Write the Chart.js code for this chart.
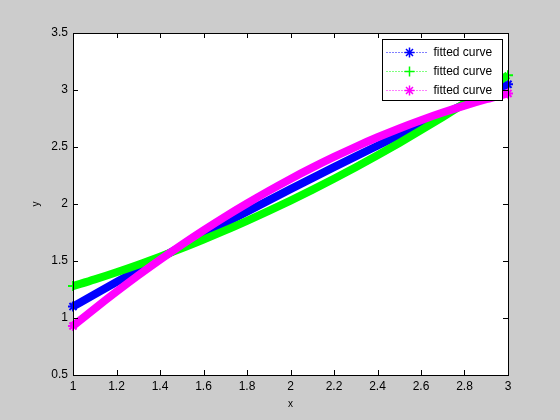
<!doctype html>
<html>
<head>
<meta charset="utf-8">
<title>fitted curve</title>
<script src="https://cdn.jsdelivr.net/npm/chart.js"></script>
<style>
  body { margin: 0; background: #cccccc; }
  #plot { display: block; background: #cccccc; }
</style>
</head>
<body>
<canvas id="plot" width="560" height="420"></canvas>
<script>
// valores
var xs = [1.0, 1.1, 1.2, 1.3, 1.4, 1.5, 1.6, 1.7, 1.8, 1.9, 2.0,
          2.1, 2.2, 2.3, 2.4, 2.5, 2.6, 2.7, 2.8, 2.9, 3.0];
var curvaAzul = [1.100, 1.208, 1.315, 1.421, 1.525, 1.629, 1.731, 1.833, 1.933, 2.032, 2.130,
                 2.227, 2.323, 2.418, 2.511, 2.604, 2.695, 2.786, 2.875, 2.963, 3.050];
var curvaVerde = [1.280, 1.339, 1.402, 1.468, 1.538, 1.611, 1.688, 1.768, 1.852, 1.939, 2.030,
                  2.124, 2.222, 2.323, 2.428, 2.536, 2.648, 2.763, 2.882, 3.004, 3.130];
var curvaMagenta = [0.930, 1.083, 1.231, 1.374, 1.511, 1.643, 1.769, 1.890, 2.005, 2.115, 2.220,
                    2.319, 2.413, 2.502, 2.585, 2.663, 2.735, 2.802, 2.863, 2.919, 2.970];
var xTicks = [1, 1.2, 1.4, 1.6, 1.8, 2, 2.2, 2.4, 2.6, 2.8, 3];
var yTicks = [0.5, 1, 1.5, 2, 2.5, 3, 3.5];
var legendas = ['fitted curve', 'fitted curve', 'fitted curve'];

var fonte = "'Liberation Sans', Arial, Helvetica, sans-serif";

function pontos(ys) {
  return xs.map(function(x, i){ return {x: x, y: ys[i]}; });
}
function raioPonta(ctx) {
  return (ctx.dataIndex === 0 || ctx.dataIndex === xs.length - 1) ? 5 : 0;
}

function marcador(ctx, estilo, x, y, r) {
  ctx.beginPath();
  ctx.moveTo(x - r, y); ctx.lineTo(x + r, y);
  ctx.moveTo(x, y - r); ctx.lineTo(x, y + r);
  if (estilo === 'star') {
    var d = r * 0.7;
    ctx.moveTo(x - d, y - d); ctx.lineTo(x + d, y + d);
    ctx.moveTo(x - d, y + d); ctx.lineTo(x + d, y - d);
  }
  ctx.stroke();
}

// moldura estilo matlab, com ticks para dentro
var molduraPlugin = {
  id: 'moldura',
  beforeDatasetsDraw: function(chart) {
    var a = chart.chartArea, ctx = chart.ctx;
    ctx.save();
    ctx.fillStyle = '#ffffff';
    ctx.fillRect(a.left, a.top, a.right - a.left, a.bottom - a.top);
    ctx.restore();
  },
  afterDraw: function(chart) {
    var a = chart.chartArea, ctx = chart.ctx;
    var sx = chart.scales.x, sy = chart.scales.y;
    ctx.save();
    ctx.strokeStyle = '#000';
    ctx.lineWidth = 1;
    ctx.strokeRect(Math.round(a.left) + 0.5, Math.round(a.top) + 0.5,
                   Math.round(a.right - a.left), Math.round(a.bottom - a.top));
    ctx.beginPath();
    xTicks.forEach(function(v){
      var px = Math.round(sx.getPixelForValue(v)) + 0.5;
      ctx.moveTo(px, a.bottom); ctx.lineTo(px, a.bottom - 5);
      ctx.moveTo(px, a.top); ctx.lineTo(px, a.top + 5);
    });
    yTicks.forEach(function(v){
      var py = Math.round(sy.getPixelForValue(v)) + 0.5;
      ctx.moveTo(a.left, py); ctx.lineTo(a.left + 5, py);
      ctx.moveTo(a.right, py); ctx.lineTo(a.right - 5, py);
    });
    ctx.stroke();

    // legenda
    var bx = Math.round(a.right) - 125.5, by = Math.round(a.top) + 6.5, bw = 120, bh = 61;
    ctx.fillStyle = '#fff';
    ctx.fillRect(bx, by, bw, bh);
    ctx.strokeStyle = '#000';
    ctx.strokeRect(bx, by, bw, bh);
    ctx.font = '12px ' + fonte;
    ctx.textBaseline = 'middle';
    chart.data.datasets.forEach(function(ds, i){
      var y = by + 13 + i * 19;
      ctx.strokeStyle = ds.borderColor;
      ctx.lineWidth = 1;
      ctx.setLineDash([1, 2]);
      ctx.beginPath();
      ctx.moveTo(bx + 4, y); ctx.lineTo(bx + 46, y);
      ctx.stroke();
      ctx.setLineDash([]);
      ctx.lineWidth = 1.5;
      marcador(ctx, ds.pointStyle, bx + 27, y, 5);
      ctx.fillStyle = '#000';
      ctx.fillText(ds.label, bx + 51, y);
    });
    ctx.restore();
  }
};

function serie(rotulo, ys, cor, estilo, ordem) {
  return {
    label: rotulo, data: pontos(ys), borderColor: cor, backgroundColor: cor,
    borderWidth: 8, borderJoinStyle: 'round', cubicInterpolationMode: 'monotone',
    pointStyle: estilo, pointRadius: raioPonta,
    pointBorderColor: cor, pointBorderWidth: 2, order: ordem, clip: false
  };
}

var ctx = document.getElementById('plot').getContext('2d');
var grafico = new Chart(ctx, {
  type: 'line',
  data: {
    datasets: [
      serie(legendas[0], curvaAzul, '#0000ff', 'star', 3),
      serie(legendas[1], curvaVerde, '#00ff00', 'cross', 2),
      serie(legendas[2], curvaMagenta, '#ff00ff', 'star', 1)
    ]
  },
  options: {
    responsive: false,
    animation: false,
    events: [],
    layout: { padding: { top: 33, right: 52, left: 0, bottom: 0 } },
    plugins: { legend: { display: false }, tooltip: { enabled: false } },
    scales: {
      x: {
        type: 'linear', min: 1, max: 3,
        afterBuildTicks: function(s){ s.ticks = xTicks.map(function(v){ return {value: v}; }); },
        afterFit: function(s){ s.height = 45; },
        grid: { display: false, drawTicks: false },
        border: { display: false },
        ticks: { padding: 4, color: '#000', font: { family: fonte, size: 12 },
                 maxRotation: 0, autoSkip: false,
                 callback: function(v){ return String(Math.round(v * 10) / 10); } },
        title: { display: true, text: 'x', color: '#000',
                 font: { family: fonte, size: 10 }, padding: { top: 0, bottom: 10 } }
      },
      y: {
        type: 'linear', min: 0.5, max: 3.5,
        afterBuildTicks: function(s){ s.ticks = yTicks.map(function(v){ return {value: v}; }); },
        afterFit: function(s){ s.width = 73; },
        grid: { display: false, drawTicks: false },
        border: { display: false },
        ticks: { padding: 5, color: '#000', font: { family: fonte, size: 12 },
                 autoSkip: false,
                 callback: function(v){ return String(Math.round(v * 10) / 10); } },
        title: { display: true, text: 'y', color: '#000',
                 font: { family: fonte, size: 10 }, padding: { top: 30, bottom: 0 } }
      }
    }
  },
  plugins: [molduraPlugin]
});
</script>
</body>
</html>
